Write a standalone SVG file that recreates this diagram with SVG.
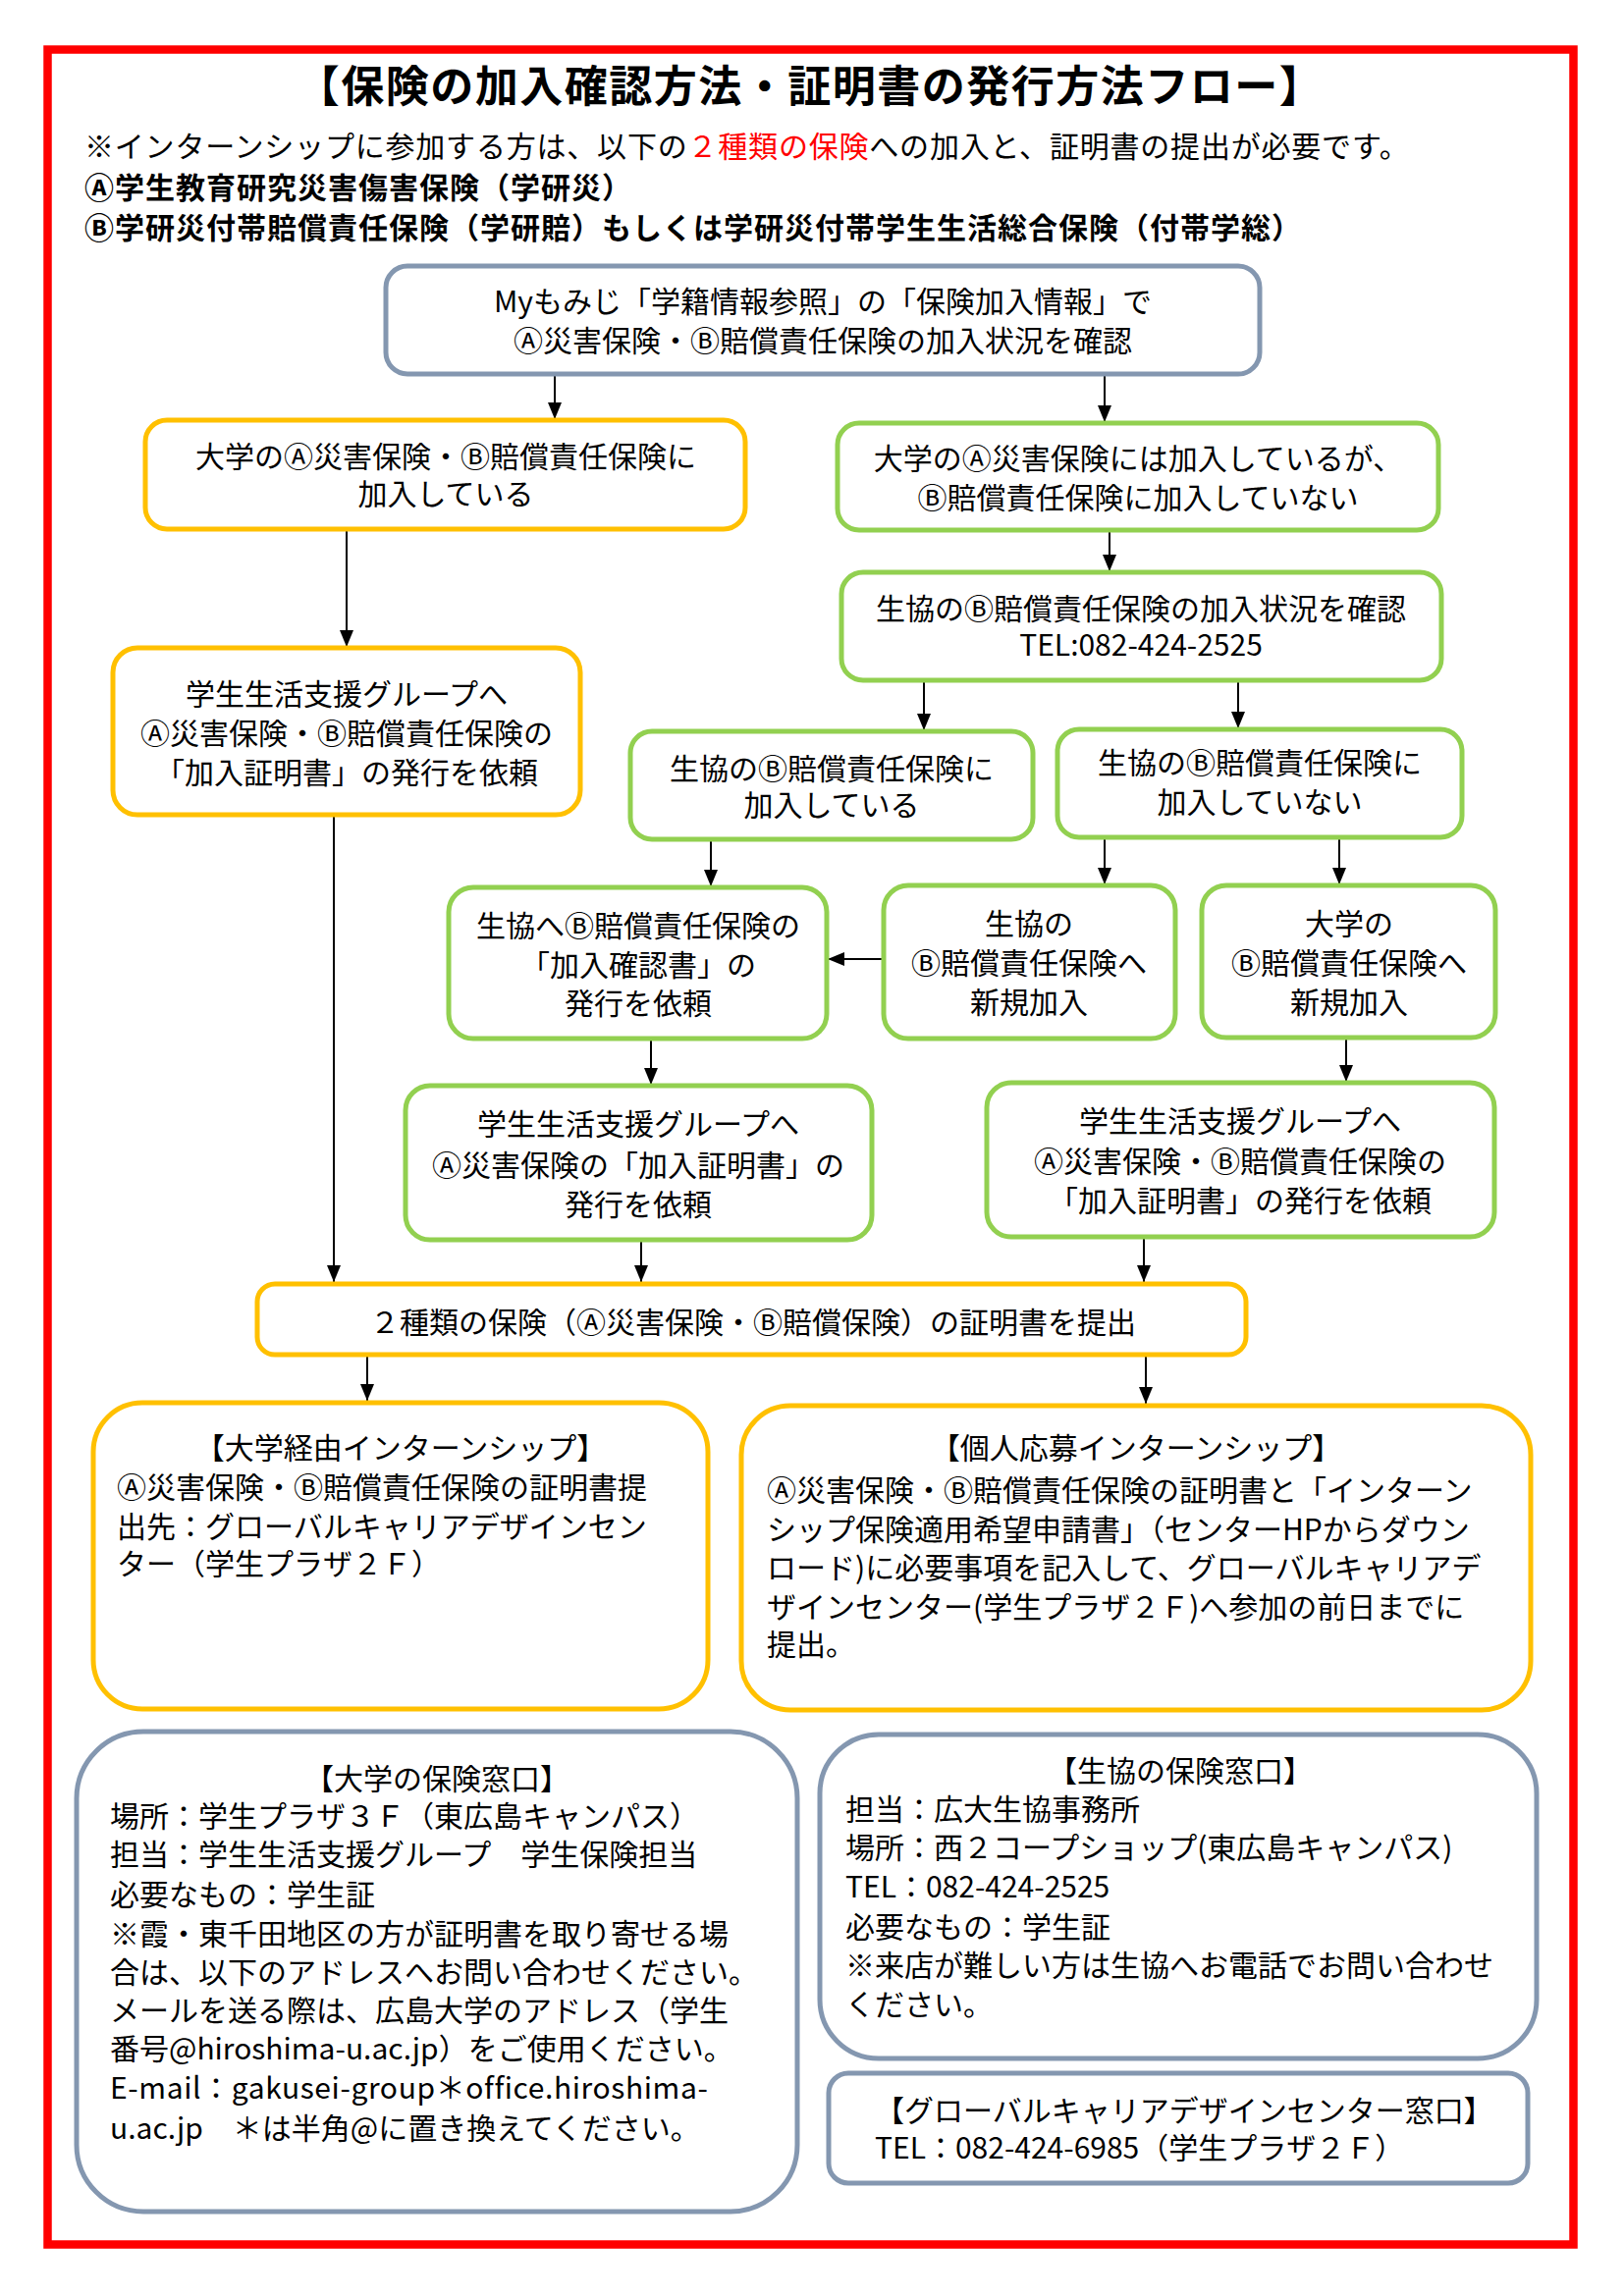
<svg xmlns="http://www.w3.org/2000/svg" width="1654" height="2339" viewBox="0 0 1654 2339">
<style>
text{font-family:"Noto Sans CJK JP","Noto Sans CJK SC",sans-serif;font-size:30px;fill:#000}
.c{text-anchor:middle}
.b{font-weight:bold}
.box{fill:#fff;stroke-width:5}
.gray{stroke:#8497B0}
.yel{stroke:#FFC000}
.grn{stroke:#92D050}
.con{stroke:#000;stroke-width:2;fill:none;marker-end:url(#ah)}
</style>
<defs>
<marker id="ah" markerUnits="userSpaceOnUse" markerWidth="17" markerHeight="14" refX="17" refY="7" orient="auto"><path d="M0,0 L17,7 L0,14 z" fill="#000"/></marker>
</defs>
<rect width="1654" height="2339" fill="#fff"/>
<rect x="48.5" y="50.5" width="1554" height="2236" fill="none" stroke="#FF0000" stroke-width="8.5"/>
<g id="header">
<text x="825" y="104" class="c b" style="font-size:44px;letter-spacing:1.5px">【保険の加入確認方法・証明書の発行方法フロー】</text>
<text x="86" y="160" style="letter-spacing:0.8px">※インターンシップに参加する方は、以下の<tspan fill="#FF0000">２種類の保険</tspan>への加入と、証明書の提出が必要です。</text>
<text x="86" y="202" class="b" style="letter-spacing:1px">Ⓐ学生教育研究災害傷害保険（学研災）</text>
<text x="86" y="243" class="b" style="letter-spacing:1px">Ⓑ学研災付帯賠償責任保険（学研賠）もしくは学研災付帯学生生活総合保険（付帯学総）</text>
</g>
<g id="connectors">
<line class="con" x1="565" y1="381" x2="565" y2="427"/>
<line class="con" x1="1125" y1="381" x2="1125" y2="430"/>
<line class="con" x1="1130" y1="540" x2="1130" y2="582"/>
<line class="con" x1="353" y1="539" x2="353" y2="659"/>
<line class="con" x1="941" y1="693" x2="941" y2="744"/>
<line class="con" x1="1261" y1="693" x2="1261" y2="742"/>
<line class="con" x1="724" y1="855" x2="724" y2="903"/>
<line class="con" x1="1125" y1="853" x2="1125" y2="901"/>
<line class="con" x1="1364" y1="853" x2="1364" y2="901"/>
<line class="con" x1="900" y1="977" x2="843" y2="977"/>
<line class="con" x1="663" y1="1058" x2="663" y2="1105"/>
<line class="con" x1="1371" y1="1057" x2="1371" y2="1102"/>
<line class="con" x1="340" y1="830" x2="340" y2="1306"/>
<line class="con" x1="653" y1="1263" x2="653" y2="1306"/>
<line class="con" x1="1165" y1="1260" x2="1165" y2="1306"/>
<line class="con" x1="374" y1="1380" x2="374" y2="1427"/>
<line class="con" x1="1167" y1="1380" x2="1167" y2="1430"/>
</g>
<g id="n1">
<rect class="box gray" x="393" y="271" width="890" height="110" rx="22"/>
<text x="838" y="318" class="c">Myもみじ「学籍情報参照」の「保険加入情報」で</text>
<text x="838" y="358" class="c">Ⓐ災害保険・Ⓑ賠償責任保険の加入状況を確認</text>
</g>
<g id="n2">
<rect class="box yel" x="148" y="428" width="611" height="111" rx="22"/>
<text x="454" y="476" class="c">大学のⒶ災害保険・Ⓑ賠償責任保険に</text>
<text x="454" y="514" class="c">加入している</text>
</g>
<g id="n3">
<rect class="box grn" x="853" y="431" width="612" height="109" rx="22"/>
<text x="1159" y="478" class="c">大学のⒶ災害保険には加入しているが、</text>
<text x="1159" y="518" class="c">Ⓑ賠償責任保険に加入していない</text>
</g>
<g id="n4">
<rect class="box grn" x="857" y="583" width="611" height="110" rx="22"/>
<text x="1162" y="631" class="c">生協のⒷ賠償責任保険の加入状況を確認</text>
<text x="1162" y="668" class="c">TEL:082-424-2525</text>
</g>
<g id="n5">
<rect class="box yel" x="115" y="660" width="476" height="170" rx="25"/>
<text x="353" y="718" class="c">学生生活支援グループへ</text>
<text x="353" y="758" class="c">Ⓐ災害保険・Ⓑ賠償責任保険の</text>
<text x="353" y="798" class="c">「加入証明書」の発行を依頼</text>
</g>
<g id="n6">
<rect class="box grn" x="642" y="745" width="410" height="110" rx="22"/>
<text x="847" y="794" class="c">生協のⒷ賠償責任保険に</text>
<text x="847" y="831" class="c">加入している</text>
</g>
<g id="n7">
<rect class="box grn" x="1077" y="743" width="412" height="110" rx="22"/>
<text x="1283" y="788" class="c">生協のⒷ賠償責任保険に</text>
<text x="1283" y="828" class="c">加入していない</text>
</g>
<g id="n8">
<rect class="box grn" x="457" y="904" width="385" height="154" rx="25"/>
<text x="650" y="954" class="c">生協へⒷ賠償責任保険の</text>
<text x="650" y="994" class="c">「加入確認書」の</text>
<text x="650" y="1033" class="c">発行を依頼</text>
</g>
<g id="n9">
<rect class="box grn" x="900" y="902" width="297" height="156" rx="25"/>
<text x="1048" y="952" class="c">生協の</text>
<text x="1048" y="992" class="c">Ⓑ賠償責任保険へ</text>
<text x="1048" y="1032" class="c">新規加入</text>
</g>
<g id="n10">
<rect class="box grn" x="1224" y="902" width="299" height="155" rx="25"/>
<text x="1374" y="952" class="c">大学の</text>
<text x="1374" y="992" class="c">Ⓑ賠償責任保険へ</text>
<text x="1374" y="1032" class="c">新規加入</text>
</g>
<g id="n11">
<rect class="box grn" x="413" y="1106" width="475" height="157" rx="25"/>
<text x="650" y="1156" class="c">学生生活支援グループへ</text>
<text x="650" y="1198" class="c">Ⓐ災害保険の「加入証明書」の</text>
<text x="650" y="1238" class="c">発行を依頼</text>
</g>
<g id="n12">
<rect class="box grn" x="1005" y="1103" width="517" height="157" rx="25"/>
<text x="1263" y="1153" class="c">学生生活支援グループへ</text>
<text x="1263" y="1194" class="c">Ⓐ災害保険・Ⓑ賠償責任保険の</text>
<text x="1263" y="1234" class="c">「加入証明書」の発行を依頼</text>
</g>
<g id="n13">
<rect class="box yel" x="262" y="1308" width="1007" height="72" rx="18"/>
<text x="767" y="1358" class="c">２種類の保険（Ⓐ災害保険・Ⓑ賠償保険）の証明書を提出</text>
</g>
<g id="n14">
<rect class="box yel" x="95" y="1429" width="626" height="312" rx="50"/>
<text x="408" y="1486" class="c">【大学経由インターンシップ】</text>
<text x="119" y="1526">Ⓐ災害保険・Ⓑ賠償責任保険の証明書提</text>
<text x="119" y="1566">出先：グローバルキャリアデザインセン</text>
<text x="119" y="1604">ター（学生プラザ２Ｆ）</text>
</g>
<g id="n15">
<rect class="box yel" x="755" y="1432" width="804" height="310" rx="50"/>
<text x="1157" y="1486" class="c">【個人応募インターンシップ】</text>
<text x="781" y="1529">Ⓐ災害保険・Ⓑ賠償責任保険の証明書と「インターン</text>
<text x="781" y="1569">シップ保険適用希望申請書」（センターHPからダウン</text>
<text x="781" y="1608">ロード)に必要事項を記入して、グローバルキャリアデ</text>
<text x="781" y="1648">ザインセンター(学生プラザ２Ｆ)へ参加の前日までに</text>
<text x="781" y="1686">提出。</text>
</g>
<g id="n16">
<rect class="box gray" x="78" y="1764" width="734" height="489" rx="68"/>
<text x="445" y="1823" class="c">【大学の保険窓口】</text>
<text x="112" y="1861">場所：学生プラザ３Ｆ（東広島キャンパス）</text>
<text x="112" y="1900">担当：学生生活支援グループ　学生保険担当</text>
<text x="112" y="1941">必要なもの：学生証</text>
<text x="112" y="1981">※霞・東千田地区の方が証明書を取り寄せる場</text>
<text x="112" y="2020">合は、以下のアドレスへお問い合わせください。</text>
<text x="112" y="2059">メールを送る際は、広島大学のアドレス（学生</text>
<text x="112" y="2098">番号@hiroshima-u.ac.jp）をご使用ください。</text>
<text x="112" y="2138" style="letter-spacing:0.6px">E-mail：gakusei-group＊office.hiroshima-</text>
<text x="112" y="2179">u.ac.jp　＊は半角@に置き換えてください。</text>
</g>
<g id="n17">
<rect class="box gray" x="835" y="1767" width="730" height="330" rx="60"/>
<text x="1202" y="1815" class="c">【生協の保険窓口】</text>
<text x="861" y="1854">担当：広大生協事務所</text>
<text x="861" y="1893">場所：西２コープショップ(東広島キャンパス)</text>
<text x="861" y="1933">TEL：082-424-2525</text>
<text x="861" y="1974">必要なもの：学生証</text>
<text x="861" y="2013">※来店が難しい方は生協へお電話でお問い合わせ</text>
<text x="861" y="2053">ください。</text>
</g>
<g id="n18">
<rect class="box gray" x="844" y="2112" width="712" height="112" rx="20"/>
<text x="891" y="2161">【グローバルキャリアデザインセンター窓口】</text>
<text x="891" y="2199">TEL：082-424-6985（学生プラザ２Ｆ）</text>
</g>
</svg>
